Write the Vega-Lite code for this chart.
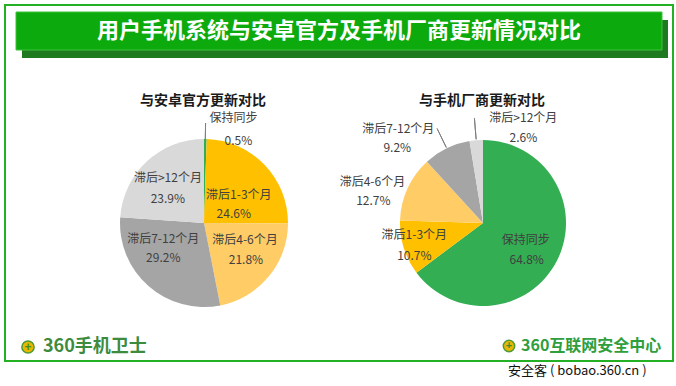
{
  "$schema": "https://vega.github.io/schema/vega-lite/v6.json",
  "width": 676,
  "height": 386,
  "autosize": {"type": "fit", "contains": "padding"},
  "padding": {"left": 4, "top": 4, "right": 4, "bottom": 26},
  "background": "white",
  "config": {"view": {"stroke": null}},
  "datasets": {
    "p1": [
      {"cat": "保持同步", "pct": 0.005, "i": 1},
      {"cat": "滞后1-3个月", "pct": 0.246, "i": 2},
      {"cat": "滞后4-6个月", "pct": 0.218, "i": 3},
      {"cat": "滞后7-12个月", "pct": 0.292, "i": 4},
      {"cat": "滞后>12个月", "pct": 0.239, "i": 5}
    ],
    "p2": [
      {"cat": "保持同步", "pct": 0.648, "i": 1},
      {"cat": "滞后1-3个月", "pct": 0.107, "i": 2},
      {"cat": "滞后4-6个月", "pct": 0.127, "i": 3},
      {"cat": "滞后7-12个月", "pct": 0.092, "i": 4},
      {"cat": "滞后>12个月", "pct": 0.026, "i": 5}
    ]
  },
  "layer": [
    {"data": {"values": [{}]}, "mark": {"type": "rect", "x": 0, "x2": 668, "y": 0, "y2": 356, "filled": false, "stroke": "#23B023", "strokeWidth": 2}, "encoding": {}},
    {"data": {"values": [{}]}, "mark": {"type": "rect", "x": 17, "x2": 663, "y": 15, "y2": 53, "color": "#1E7A1E"}, "encoding": {}},
    {"data": {"values": [{}]}, "mark": {"type": "rect", "x": 11, "x2": 657, "y": 7, "y2": 45, "color": "#0CAA0C", "stroke": "#3FC23F", "strokeWidth": 1}, "encoding": {}},
    {"data": {"values": [{}]}, "mark": {"type": "text", "x": 334, "y": 26, "text": "用户手机系统与安卓官方及手机厂商更新情况对比", "font": "Noto Sans CJK SC", "fontSize": 22, "fontWeight": "bold", "color": "white"}, "encoding": {}},
    {"data": {"values": [{}]}, "mark": {"type": "text", "x": 198, "y": 96, "text": "与安卓官方更新对比", "font": "Noto Sans CJK SC", "fontSize": 14, "fontWeight": "bold", "color": "#1a1a1a"}, "encoding": {}},
    {"data": {"values": [{}]}, "mark": {"type": "text", "x": 477, "y": 96, "text": "与手机厂商更新对比", "font": "Noto Sans CJK SC", "fontSize": 14, "fontWeight": "bold", "color": "#1a1a1a"}, "encoding": {}},

    {"data": {"name": "p1"}, "mark": {"type": "arc", "x": 199, "y": 218, "outerRadius": 84},
     "encoding": {
       "theta": {"field": "pct", "type": "quantitative", "stack": true, "scale": {"domain": [0, 1]}},
       "order": {"field": "i", "type": "quantitative"},
       "color": {"field": "cat", "type": "nominal", "scale": {"domain": ["保持同步", "滞后1-3个月", "滞后4-6个月", "滞后7-12个月", "滞后>12个月"], "range": ["#33AE52", "#FFC000", "#FFCC66", "#A5A5A5", "#D9D9D9"]}, "legend": null}
     }},
    {"data": {"name": "p2"}, "mark": {"type": "arc", "x": 478, "y": 218, "outerRadius": 83},
     "encoding": {
       "theta": {"field": "pct", "type": "quantitative", "stack": true, "scale": {"domain": [0, 1]}},
       "order": {"field": "i", "type": "quantitative"},
       "color": {"field": "cat", "type": "nominal", "legend": null}
     }},

    {"data": {"name": "p1"}, "mark": {"type": "arc", "x": 199, "y": 218, "innerRadius": 84, "outerRadius": 100, "padAngle": 0.6, "filled": false, "stroke": "#7f7f7f", "strokeWidth": 1},
     "encoding": {
       "theta": {"field": "pct", "type": "quantitative", "stack": true, "scale": {"domain": [0, 1]}},
       "order": {"field": "i", "type": "quantitative"},
       "detail": {"field": "cat", "type": "nominal"},
       "strokeOpacity": {"condition": {"test": "datum.cat === '保持同步'", "value": 1}, "value": 0}
     }},
    {"data": {"name": "p2"}, "mark": {"type": "arc", "x": 478, "y": 218, "innerRadius": 84, "outerRadius": 105, "padAngle": 0.6, "filled": false, "stroke": "#7f7f7f", "strokeWidth": 1},
     "encoding": {
       "theta": {"field": "pct", "type": "quantitative", "stack": true, "scale": {"domain": [0, 1]}},
       "order": {"field": "i", "type": "quantitative"},
       "detail": {"field": "cat", "type": "nominal"},
       "strokeOpacity": {"condition": {"test": "datum.cat === '滞后7-12个月' || datum.cat === '滞后>12个月'", "value": 1}, "value": 0}
     }},

    {"data": {"name": "p1"}, "mark": {"type": "text", "x": 199, "y": 218, "radius": 94, "dx": 28, "dy": -11, "font": "Noto Sans CJK SC", "fontSize": 12, "color": "#404040"},
     "encoding": {"theta": {"field": "pct", "type": "quantitative", "stack": true, "scale": {"domain": [0, 1]}}, "order": {"field": "i", "type": "quantitative"}, "detail": {"field": "cat", "type": "nominal"},
       "text": {"condition": {"test": "datum.cat === '保持同步'", "field": "cat", "type": "nominal"}, "value": ""}}},
    {"data": {"name": "p1"}, "mark": {"type": "text", "x": 199, "y": 218, "radius": 94, "dx": 33, "dy": 12, "font": "Noto Sans CJK SC", "fontSize": 12, "color": "#404040"},
     "encoding": {"theta": {"field": "pct", "type": "quantitative", "stack": true, "scale": {"domain": [0, 1]}}, "order": {"field": "i", "type": "quantitative"}, "detail": {"field": "cat", "type": "nominal"},
       "text": {"condition": {"test": "datum.cat === '保持同步'", "field": "pct", "type": "quantitative", "format": ".1%"}, "value": ""}}},
    {"data": {"name": "p1"}, "mark": {"type": "text", "x": 199, "y": 218, "radius": 40, "dx": 6, "dy": 0, "font": "Noto Sans CJK SC", "fontSize": 12, "color": "#404040"},
     "encoding": {"theta": {"field": "pct", "type": "quantitative", "stack": true, "scale": {"domain": [0, 1]}}, "order": {"field": "i", "type": "quantitative"}, "detail": {"field": "cat", "type": "nominal"},
       "text": {"condition": {"test": "datum.cat === '滞后1-3个月'", "field": "cat", "type": "nominal"}, "value": ""}}},
    {"data": {"name": "p1"}, "mark": {"type": "text", "x": 199, "y": 218, "radius": 40, "dx": 1, "dy": 19, "font": "Noto Sans CJK SC", "fontSize": 12, "color": "#404040"},
     "encoding": {"theta": {"field": "pct", "type": "quantitative", "stack": true, "scale": {"domain": [0, 1]}}, "order": {"field": "i", "type": "quantitative"}, "detail": {"field": "cat", "type": "nominal"},
       "text": {"condition": {"test": "datum.cat === '滞后1-3个月'", "field": "pct", "type": "quantitative", "format": ".1%"}, "value": ""}}},
    {"data": {"name": "p1"}, "mark": {"type": "text", "x": 199, "y": 218, "radius": 48, "dx": 4, "dy": -14, "font": "Noto Sans CJK SC", "fontSize": 12, "color": "#404040"},
     "encoding": {"theta": {"field": "pct", "type": "quantitative", "stack": true, "scale": {"domain": [0, 1]}}, "order": {"field": "i", "type": "quantitative"}, "detail": {"field": "cat", "type": "nominal"},
       "text": {"condition": {"test": "datum.cat === '滞后4-6个月'", "field": "cat", "type": "nominal"}, "value": ""}}},
    {"data": {"name": "p1"}, "mark": {"type": "text", "x": 199, "y": 218, "radius": 48, "dx": 5, "dy": 6, "font": "Noto Sans CJK SC", "fontSize": 12, "color": "#404040"},
     "encoding": {"theta": {"field": "pct", "type": "quantitative", "stack": true, "scale": {"domain": [0, 1]}}, "order": {"field": "i", "type": "quantitative"}, "detail": {"field": "cat", "type": "nominal"},
       "text": {"condition": {"test": "datum.cat === '滞后4-6个月'", "field": "pct", "type": "quantitative", "format": ".1%"}, "value": ""}}},
    {"data": {"name": "p1"}, "mark": {"type": "text", "x": 199, "y": 218, "radius": 48, "dx": -9, "dy": -20, "font": "Noto Sans CJK SC", "fontSize": 12, "color": "#404040"},
     "encoding": {"theta": {"field": "pct", "type": "quantitative", "stack": true, "scale": {"domain": [0, 1]}}, "order": {"field": "i", "type": "quantitative"}, "detail": {"field": "cat", "type": "nominal"},
       "text": {"condition": {"test": "datum.cat === '滞后7-12个月'", "field": "cat", "type": "nominal"}, "value": ""}}},
    {"data": {"name": "p1"}, "mark": {"type": "text", "x": 199, "y": 218, "radius": 48, "dx": -9, "dy": -1, "font": "Noto Sans CJK SC", "fontSize": 12, "color": "#404040"},
     "encoding": {"theta": {"field": "pct", "type": "quantitative", "stack": true, "scale": {"domain": [0, 1]}}, "order": {"field": "i", "type": "quantitative"}, "detail": {"field": "cat", "type": "nominal"},
       "text": {"condition": {"test": "datum.cat === '滞后7-12个月'", "field": "pct", "type": "quantitative", "format": ".1%"}, "value": ""}}},
    {"data": {"name": "p1"}, "mark": {"type": "text", "x": 199, "y": 218, "radius": 50, "dx": -2, "dy": -8, "font": "Noto Sans CJK SC", "fontSize": 12, "color": "#404040"},
     "encoding": {"theta": {"field": "pct", "type": "quantitative", "stack": true, "scale": {"domain": [0, 1]}}, "order": {"field": "i", "type": "quantitative"}, "detail": {"field": "cat", "type": "nominal"},
       "text": {"condition": {"test": "datum.cat === '滞后>12个月'", "field": "cat", "type": "nominal"}, "value": ""}}},
    {"data": {"name": "p1"}, "mark": {"type": "text", "x": 199, "y": 218, "radius": 50, "dx": -2, "dy": 13, "font": "Noto Sans CJK SC", "fontSize": 12, "color": "#404040"},
     "encoding": {"theta": {"field": "pct", "type": "quantitative", "stack": true, "scale": {"domain": [0, 1]}}, "order": {"field": "i", "type": "quantitative"}, "detail": {"field": "cat", "type": "nominal"},
       "text": {"condition": {"test": "datum.cat === '滞后>12个月'", "field": "pct", "type": "quantitative", "format": ".1%"}, "value": ""}}},

    {"data": {"name": "p2"}, "mark": {"type": "text", "x": 478, "y": 218, "radius": 50, "dx": -2, "dy": -5, "font": "Noto Sans CJK SC", "fontSize": 12, "color": "#404040"},
     "encoding": {"theta": {"field": "pct", "type": "quantitative", "stack": true, "scale": {"domain": [0, 1]}}, "order": {"field": "i", "type": "quantitative"}, "detail": {"field": "cat", "type": "nominal"},
       "text": {"condition": {"test": "datum.cat === '保持同步'", "field": "cat", "type": "nominal"}, "value": ""}}},
    {"data": {"name": "p2"}, "mark": {"type": "text", "x": 478, "y": 218, "radius": 50, "dx": -1, "dy": 15, "font": "Noto Sans CJK SC", "fontSize": 12, "color": "#404040"},
     "encoding": {"theta": {"field": "pct", "type": "quantitative", "stack": true, "scale": {"domain": [0, 1]}}, "order": {"field": "i", "type": "quantitative"}, "detail": {"field": "cat", "type": "nominal"},
       "text": {"condition": {"test": "datum.cat === '保持同步'", "field": "pct", "type": "quantitative", "format": ".1%"}, "value": ""}}},
    {"data": {"name": "p2"}, "mark": {"type": "text", "x": 478, "y": 218, "radius": 72, "dx": 0, "dy": -10, "font": "Noto Sans CJK SC", "fontSize": 12, "color": "#404040"},
     "encoding": {"theta": {"field": "pct", "type": "quantitative", "stack": true, "scale": {"domain": [0, 1]}}, "order": {"field": "i", "type": "quantitative"}, "detail": {"field": "cat", "type": "nominal"},
       "text": {"condition": {"test": "datum.cat === '滞后1-3个月'", "field": "cat", "type": "nominal"}, "value": ""}}},
    {"data": {"name": "p2"}, "mark": {"type": "text", "x": 478, "y": 218, "radius": 72, "dx": 0, "dy": 11, "font": "Noto Sans CJK SC", "fontSize": 12, "color": "#404040"},
     "encoding": {"theta": {"field": "pct", "type": "quantitative", "stack": true, "scale": {"domain": [0, 1]}}, "order": {"field": "i", "type": "quantitative"}, "detail": {"field": "cat", "type": "nominal"},
       "text": {"condition": {"test": "datum.cat === '滞后1-3个月'", "field": "pct", "type": "quantitative", "format": ".1%"}, "value": ""}}},
    {"data": {"name": "p2"}, "mark": {"type": "text", "x": 478, "y": 218, "radius": 114, "dx": -7, "dy": 7, "font": "Noto Sans CJK SC", "fontSize": 12, "color": "#404040"},
     "encoding": {"theta": {"field": "pct", "type": "quantitative", "stack": true, "scale": {"domain": [0, 1]}}, "order": {"field": "i", "type": "quantitative"}, "detail": {"field": "cat", "type": "nominal"},
       "text": {"condition": {"test": "datum.cat === '滞后4-6个月'", "field": "cat", "type": "nominal"}, "value": ""}}},
    {"data": {"name": "p2"}, "mark": {"type": "text", "x": 478, "y": 218, "radius": 114, "dx": -6, "dy": 26, "font": "Noto Sans CJK SC", "fontSize": 12, "color": "#404040"},
     "encoding": {"theta": {"field": "pct", "type": "quantitative", "stack": true, "scale": {"domain": [0, 1]}}, "order": {"field": "i", "type": "quantitative"}, "detail": {"field": "cat", "type": "nominal"},
       "text": {"condition": {"test": "datum.cat === '滞后4-6个月'", "field": "pct", "type": "quantitative", "format": ".1%"}, "value": ""}}},
    {"data": {"name": "p2"}, "mark": {"type": "text", "x": 478, "y": 218, "radius": 100, "dx": -41, "dy": -4, "font": "Noto Sans CJK SC", "fontSize": 12, "color": "#404040"},
     "encoding": {"theta": {"field": "pct", "type": "quantitative", "stack": true, "scale": {"domain": [0, 1]}}, "order": {"field": "i", "type": "quantitative"}, "detail": {"field": "cat", "type": "nominal"},
       "text": {"condition": {"test": "datum.cat === '滞后7-12个月'", "field": "cat", "type": "nominal"}, "value": ""}}},
    {"data": {"name": "p2"}, "mark": {"type": "text", "x": 478, "y": 218, "radius": 100, "dx": -42, "dy": 15, "font": "Noto Sans CJK SC", "fontSize": 12, "color": "#404040"},
     "encoding": {"theta": {"field": "pct", "type": "quantitative", "stack": true, "scale": {"domain": [0, 1]}}, "order": {"field": "i", "type": "quantitative"}, "detail": {"field": "cat", "type": "nominal"},
       "text": {"condition": {"test": "datum.cat === '滞后7-12个月'", "field": "pct", "type": "quantitative", "format": ".1%"}, "value": ""}}},
    {"data": {"name": "p2"}, "mark": {"type": "text", "x": 478, "y": 218, "radius": 94, "dx": 48, "dy": -11, "font": "Noto Sans CJK SC", "fontSize": 12, "color": "#404040"},
     "encoding": {"theta": {"field": "pct", "type": "quantitative", "stack": true, "scale": {"domain": [0, 1]}}, "order": {"field": "i", "type": "quantitative"}, "detail": {"field": "cat", "type": "nominal"},
       "text": {"condition": {"test": "datum.cat === '滞后>12个月'", "field": "cat", "type": "nominal"}, "value": ""}}},
    {"data": {"name": "p2"}, "mark": {"type": "text", "x": 478, "y": 218, "radius": 94, "dx": 48, "dy": 9, "font": "Noto Sans CJK SC", "fontSize": 12, "color": "#404040"},
     "encoding": {"theta": {"field": "pct", "type": "quantitative", "stack": true, "scale": {"domain": [0, 1]}}, "order": {"field": "i", "type": "quantitative"}, "detail": {"field": "cat", "type": "nominal"},
       "text": {"condition": {"test": "datum.cat === '滞后>12个月'", "field": "pct", "type": "quantitative", "format": ".1%"}, "value": ""}}},

    {"data": {"values": [{}]}, "mark": {"type": "point", "shape": "circle", "filled": true, "x": 23, "y": 342, "size": 150, "fill": "#E8B800", "stroke": "#4E9A35", "strokeWidth": 1.5, "opacity": 1}, "encoding": {}},
    {"data": {"values": [{}]}, "mark": {"type": "text", "x": 23, "y": 342, "text": "+", "fontSize": 12, "fontWeight": "bold", "color": "#3E8E2E"}, "encoding": {}},
    {"data": {"values": [{}]}, "mark": {"type": "text", "x": 38, "y": 342, "align": "left", "text": "360手机卫士", "font": "Noto Sans CJK SC", "fontSize": 18, "fontWeight": "bold", "color": "#3E8B3E"}, "encoding": {}},
    {"data": {"values": [{}]}, "mark": {"type": "point", "shape": "circle", "filled": true, "x": 504, "y": 341, "size": 130, "fill": "#E8B800", "stroke": "#4E9A35", "strokeWidth": 1.5, "opacity": 1}, "encoding": {}},
    {"data": {"values": [{}]}, "mark": {"type": "text", "x": 504, "y": 341, "text": "+", "fontSize": 11, "fontWeight": "bold", "color": "#3E8E2E"}, "encoding": {}},
    {"data": {"values": [{}]}, "mark": {"type": "text", "x": 516, "y": 341, "align": "left", "text": "360互联网安全中心", "font": "Noto Sans CJK SC", "fontSize": 16, "fontWeight": "bold", "color": "#2E9E3E"}, "encoding": {}},
    {"data": {"values": [{}]}, "mark": {"type": "text", "x": 503, "y": 366, "align": "left", "text": "安全客 ( bobao.360.cn )", "font": "Noto Sans CJK SC", "fontSize": 13, "color": "#111111"}, "encoding": {}}
  ]
}
